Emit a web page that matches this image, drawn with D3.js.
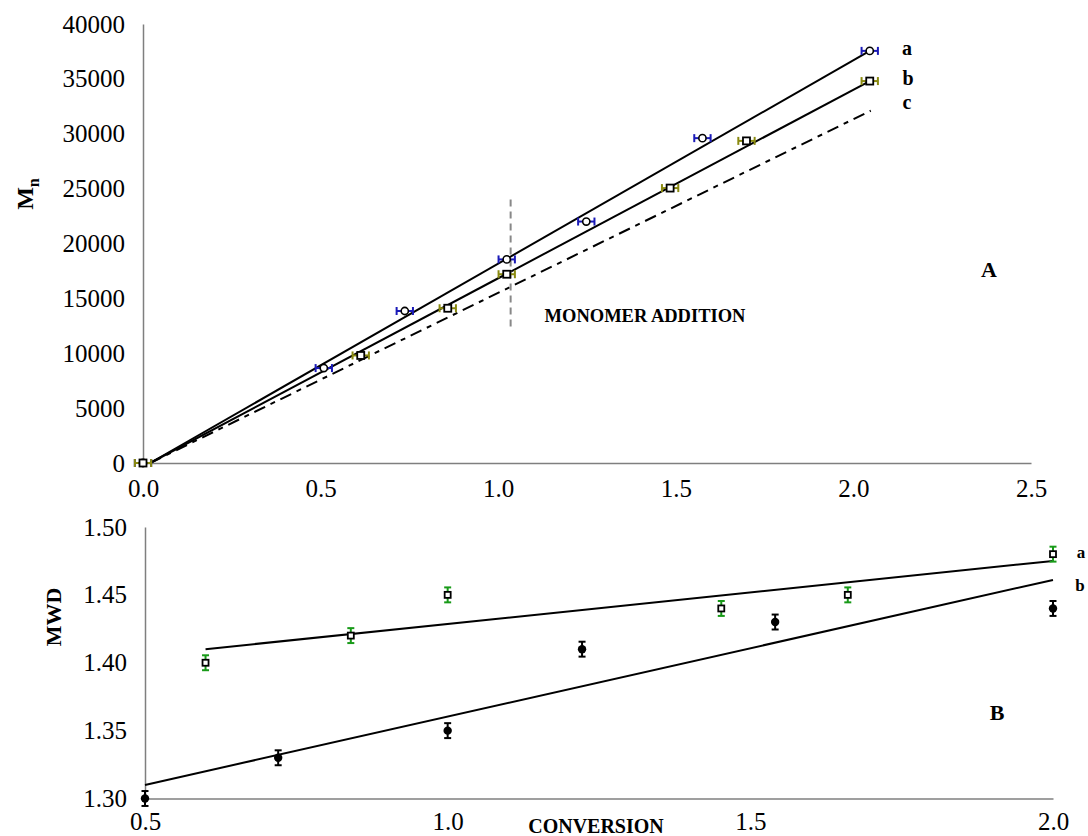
<!DOCTYPE html>
<html>
<head>
<meta charset="utf-8">
<script src="https://cdn.jsdelivr.net/npm/d3@7"></script>
<style>
  body { margin: 0; background: #fff; }
  text { font-family: "Liberation Serif", "Times New Roman", serif; }
</style>
</head>
<body>
<div id="chart"></div>
<script>
// panel A: Mn vs conversion
const topConvA = [0, 0.509, 0.737, 1.024, 1.248, 1.575, 2.046];
const topMnA = [0, 8650, 13850, 18550, 22000, 29600, 37550];
const topConvB = [0, 0.613, 0.858, 1.024, 1.484, 1.699, 2.046];
const topMnB = [0, 9800, 14100, 17200, 25050, 29350, 34800];
const topErrX = 0.023;

const lineAConv = [0.02, 2.046], lineAMn = [0, 37550];
const lineBConv = [0.02, 2.046], lineBMn = [0, 34800];
const lineCConv = [0.02, 2.049], lineCMn = [0, 32100];

const monomerConv = 1.035, monomerMn = [12400, 24000];

const topXTicks = [0, 0.5, 1.0, 1.5, 2.0, 2.5];
const topYTicks = [0, 5000, 10000, 15000, 20000, 25000, 30000, 35000, 40000];

// panel B: MWD vs conversion
const botConvA = [0.6, 0.84, 1.0, 1.452, 1.661, 2.0];
const botMwdA = [1.40, 1.42, 1.45, 1.44, 1.45, 1.48];
const botConvB = [0.5, 0.72, 1.0, 1.222, 1.541, 2.0];
const botMwdB = [1.30, 1.33, 1.35, 1.41, 1.43, 1.44];
const botErrY = 0.0055;

const trendAConv = [0.6, 2.0], trendAMwd = [1.41, 1.475];
const trendBConv = [0.5, 2.0], trendBMwd = [1.31, 1.461];

const botXTicks = [0.5, 1.0, 1.5, 2.0];
const botYTicks = [1.30, 1.35, 1.40, 1.45, 1.50];

const width = 1088, height = 836;
const svg = d3.select("#chart").append("svg")
  .attr("width", width)
  .attr("height", height)
  .style("background", "#fff");

const axisColor = "#7f7f7f";
const blue = "#1a1ab8", olive = "#8a8a10", green = "#189a18";

function styleAxis(g) {
  g.select(".domain").attr("stroke", axisColor).attr("stroke-width", 1.5);
  g.selectAll("text")
    .attr("fill", "#000")
    .style("font-family", '"Liberation Serif", serif')
    .style("font-size", "25px");
}

// ---------- top panel ----------
const xTop = d3.scaleLinear().domain([0, 2.5]).range([143, 1031]);
const yTop = d3.scaleLinear().domain([0, 40000]).range([463, 24]);

svg.append("g")
  .attr("transform", `translate(0,${yTop(0)})`)
  .call(d3.axisBottom(xTop).tickValues(topXTicks).tickFormat(d3.format(".1f"))
    .tickSize(0).tickPadding(16))
  .call(styleAxis);

svg.append("g")
  .attr("transform", `translate(${xTop(0)},0)`)
  .call(d3.axisLeft(yTop).tickValues(topYTicks).tickFormat(d3.format("d"))
    .tickSize(0).tickPadding(18))
  .call(styleAxis);

const topLine = d3.line().x(d => xTop(d[0])).y(d => yTop(d[1]));

svg.append("path")
  .attr("d", topLine(d3.zip(lineAConv, lineAMn)))
  .attr("fill", "none").attr("stroke", "#000").attr("stroke-width", 2);
svg.append("path")
  .attr("d", topLine(d3.zip(lineBConv, lineBMn)))
  .attr("fill", "none").attr("stroke", "#000").attr("stroke-width", 2);
svg.append("path")
  .attr("d", topLine(d3.zip(lineCConv, lineCMn)))
  .attr("fill", "none").attr("stroke", "#000").attr("stroke-width", 2)
  .attr("stroke-dasharray", "12,6,5,6");

svg.append("line")
  .attr("x1", xTop(monomerConv)).attr("x2", xTop(monomerConv))
  .attr("y1", yTop(monomerMn[1])).attr("y2", yTop(monomerMn[0]))
  .attr("stroke", "#888").attr("stroke-width", 2)
  .attr("stroke-dasharray", "7,5");

function hErrors(conv, vals, color) {
  const g = svg.append("g").attr("stroke", color).attr("stroke-width", 2);
  const pts = d3.zip(conv, vals);
  g.selectAll(".bar").data(pts).join("line")
    .attr("x1", d => xTop(d[0] - topErrX)).attr("x2", d => xTop(d[0] + topErrX))
    .attr("y1", d => yTop(d[1])).attr("y2", d => yTop(d[1]));
  g.selectAll(".capl").data(pts).join("line")
    .attr("x1", d => xTop(d[0] - topErrX)).attr("x2", d => xTop(d[0] - topErrX))
    .attr("y1", d => yTop(d[1]) - 4).attr("y2", d => yTop(d[1]) + 4);
  g.selectAll(".capr").data(pts).join("line")
    .attr("x1", d => xTop(d[0] + topErrX)).attr("x2", d => xTop(d[0] + topErrX))
    .attr("y1", d => yTop(d[1]) - 4).attr("y2", d => yTop(d[1]) + 4);
}

hErrors(topConvA, topMnA, blue);
hErrors(topConvB, topMnB, olive);

svg.append("g").selectAll("circle")
  .data(d3.zip(topConvA, topMnA)).join("circle")
  .attr("cx", d => xTop(d[0])).attr("cy", d => yTop(d[1]))
  .attr("r", 3.6).attr("fill", "#fff").attr("stroke", "#000").attr("stroke-width", 1.6);

svg.append("g").selectAll("rect")
  .data(d3.zip(topConvB, topMnB)).join("rect")
  .attr("x", d => xTop(d[0]) - 3.5).attr("y", d => yTop(d[1]) - 3.5)
  .attr("width", 7).attr("height", 7)
  .attr("fill", "#fff").attr("stroke", "#000").attr("stroke-width", 1.8);

// labels top
svg.append("text").attr("x", 907).attr("y", 55).attr("text-anchor", "middle")
  .style("font-size", "20px").style("font-weight", "bold").text("a");
svg.append("text").attr("x", 908).attr("y", 85).attr("text-anchor", "middle")
  .style("font-size", "20px").style("font-weight", "bold").text("b");
svg.append("text").attr("x", 907).attr("y", 109).attr("text-anchor", "middle")
  .style("font-size", "20px").style("font-weight", "bold").text("c");
svg.append("text").attr("x", 989).attr("y", 277).attr("text-anchor", "middle")
  .style("font-size", "22px").style("font-weight", "bold").text("A");
svg.append("text").attr("x", 645).attr("y", 322).attr("text-anchor", "middle")
  .style("font-size", "18.5px").style("font-weight", "bold").text("MONOMER ADDITION");

const mn = svg.append("text")
  .attr("transform", "translate(33,194) rotate(-90)")
  .attr("text-anchor", "middle")
  .style("font-size", "24px").style("font-weight", "bold");
mn.append("tspan").text("M");
mn.append("tspan").attr("dy", 6).style("font-size", "16px").text("n");

// ---------- bottom panel ----------
const xBot = d3.scaleLinear().domain([0.5, 2.0]).range([145, 1053]);
const yBot = d3.scaleLinear().domain([1.30, 1.50]).range([798.5, 527]);

svg.append("g")
  .attr("transform", `translate(0,${yBot(1.30)})`)
  .call(d3.axisBottom(xBot).tickValues(botXTicks).tickFormat(d3.format(".1f"))
    .tickSize(0).tickPadding(14))
  .call(styleAxis);

svg.append("g")
  .attr("transform", `translate(${xBot(0.5)},0)`)
  .call(d3.axisLeft(yBot).tickValues(botYTicks).tickFormat(d3.format(".2f"))
    .tickSize(0).tickPadding(18))
  .call(styleAxis);

const botLine = d3.line().x(d => xBot(d[0])).y(d => yBot(d[1]));
svg.append("path")
  .attr("d", botLine(d3.zip(trendAConv, trendAMwd)))
  .attr("fill", "none").attr("stroke", "#000").attr("stroke-width", 2);
svg.append("path")
  .attr("d", botLine(d3.zip(trendBConv, trendBMwd)))
  .attr("fill", "none").attr("stroke", "#000").attr("stroke-width", 2);

function vErrors(conv, vals, color) {
  const g = svg.append("g").attr("stroke", color).attr("stroke-width", 2);
  const pts = d3.zip(conv, vals);
  g.selectAll(".bar").data(pts).join("line")
    .attr("x1", d => xBot(d[0])).attr("x2", d => xBot(d[0]))
    .attr("y1", d => yBot(d[1] - botErrY)).attr("y2", d => yBot(d[1] + botErrY));
  g.selectAll(".capt").data(pts).join("line")
    .attr("x1", d => xBot(d[0]) - 3.5).attr("x2", d => xBot(d[0]) + 3.5)
    .attr("y1", d => yBot(d[1] + botErrY)).attr("y2", d => yBot(d[1] + botErrY));
  g.selectAll(".capb").data(pts).join("line")
    .attr("x1", d => xBot(d[0]) - 3.5).attr("x2", d => xBot(d[0]) + 3.5)
    .attr("y1", d => yBot(d[1] - botErrY)).attr("y2", d => yBot(d[1] - botErrY));
}

vErrors(botConvA, botMwdA, green);
vErrors(botConvB, botMwdB, "#000");

svg.append("g").selectAll("rect")
  .data(d3.zip(botConvA, botMwdA)).join("rect")
  .attr("x", d => xBot(d[0]) - 3).attr("y", d => yBot(d[1]) - 3)
  .attr("width", 6).attr("height", 6)
  .attr("fill", "#fff").attr("stroke", "#000").attr("stroke-width", 1.8);

svg.append("g").selectAll("circle")
  .data(d3.zip(botConvB, botMwdB)).join("circle")
  .attr("cx", d => xBot(d[0])).attr("cy", d => yBot(d[1]))
  .attr("r", 4.2).attr("fill", "#000");

svg.append("text").attr("x", 1081).attr("y", 558).attr("text-anchor", "middle")
  .style("font-size", "17px").style("font-weight", "bold").text("a");
svg.append("text").attr("x", 1080).attr("y", 591).attr("text-anchor", "middle")
  .style("font-size", "17px").style("font-weight", "bold").text("b");
svg.append("text").attr("x", 997).attr("y", 720).attr("text-anchor", "middle")
  .style("font-size", "22px").style("font-weight", "bold").text("B");
svg.append("text").attr("x", 596).attr("y", 833).attr("text-anchor", "middle")
  .style("font-size", "20px").style("font-weight", "bold").text("CONVERSION");
svg.append("text")
  .attr("transform", "translate(61,617) rotate(-90)")
  .attr("text-anchor", "middle")
  .style("font-size", "22px").style("font-weight", "bold").text("MWD");
</script>
</body>
</html>
